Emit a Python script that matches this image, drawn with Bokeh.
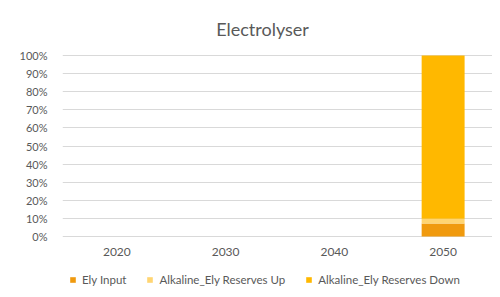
from bokeh.plotting import figure
from bokeh.models import ColumnDataSource, Range1d, FixedTicker, PrintfTickFormatter, Legend, Label
from bokeh.embed import file_html
from bokeh.resources import INLINE

title_text = "Electrolyser"
years = ["2020", "2030", "2040", "2050"]
ely_input = [0, 0, 0, 7.2]
reserves_up = [0, 0, 0, 2.6]
reserves_down = [0, 0, 0, 90.2]
series_names = ["Ely Input", "Alkaline_Ely Reserves Up", "Alkaline_Ely Reserves Down"]
colors = ["#F09A0E", "#FFD572", "#FFB800"]
y_ticks = [0, 10, 20, 30, 40, 50, 60, 70, 80, 90, 100]

pos = [i + 0.5 for i in range(len(years))]
src = ColumnDataSource(dict(x=pos, a=ely_input, b=reserves_up, c=reserves_down))

p = figure(width=492, height=295, output_backend="svg", toolbar_location=None,
           x_range=Range1d(0, 3.954), y_range=Range1d(-32.6, 130.4),
           min_border_left=62, min_border_right=0, min_border_top=0, min_border_bottom=0)

renderers = p.vbar_stack(["a", "b", "c"], x="x", width=0.395, color=colors,
                         line_color=None, source=src)

p.add_layout(Label(x=200, y=267, x_units="screen", y_units="screen", text=title_text,
                   text_font="Lato", text_font_size="18px", text_color="#595959",
                   text_align="center", text_baseline="middle"))

p.xaxis.fixed_location = 0
p.xaxis.ticker = FixedTicker(ticks=pos)
p.xaxis.major_label_overrides = {v: y for v, y in zip(pos, years)}
p.yaxis.ticker = FixedTicker(ticks=y_ticks)
p.yaxis.formatter = PrintfTickFormatter(format="%d%%")
for ax in (p.xaxis, p.yaxis):
    ax.axis_line_color = None
    ax.major_tick_line_color = None
    ax.minor_tick_line_color = None
    ax.major_label_text_font = "Lato"
    ax.major_label_text_font_size = "12px"
    ax.major_label_text_color = "#595959"
p.yaxis.major_label_text_font_size = "11px"
p.yaxis.major_label_standoff = 9
p.xaxis.major_label_standoff = 5

p.xgrid.grid_line_color = None
p.ygrid.grid_line_color = "#D9D9D9"
p.ygrid.ticker = FixedTicker(ticks=y_ticks)
p.outline_line_color = None

legend = Legend(items=[(n, [r]) for n, r in zip(series_names, renderers)],
                orientation="horizontal", location=(7, 9),
                label_text_font="Lato", label_text_font_size="11.5px",
                label_text_color="#595959", glyph_width=7, glyph_height=7,
                spacing=20, label_standoff=6, border_line_color=None,
                background_fill_alpha=0, padding=4, margin=0)
p.add_layout(legend, "center")

open("out.html", "w").write(file_html(p, INLINE))
